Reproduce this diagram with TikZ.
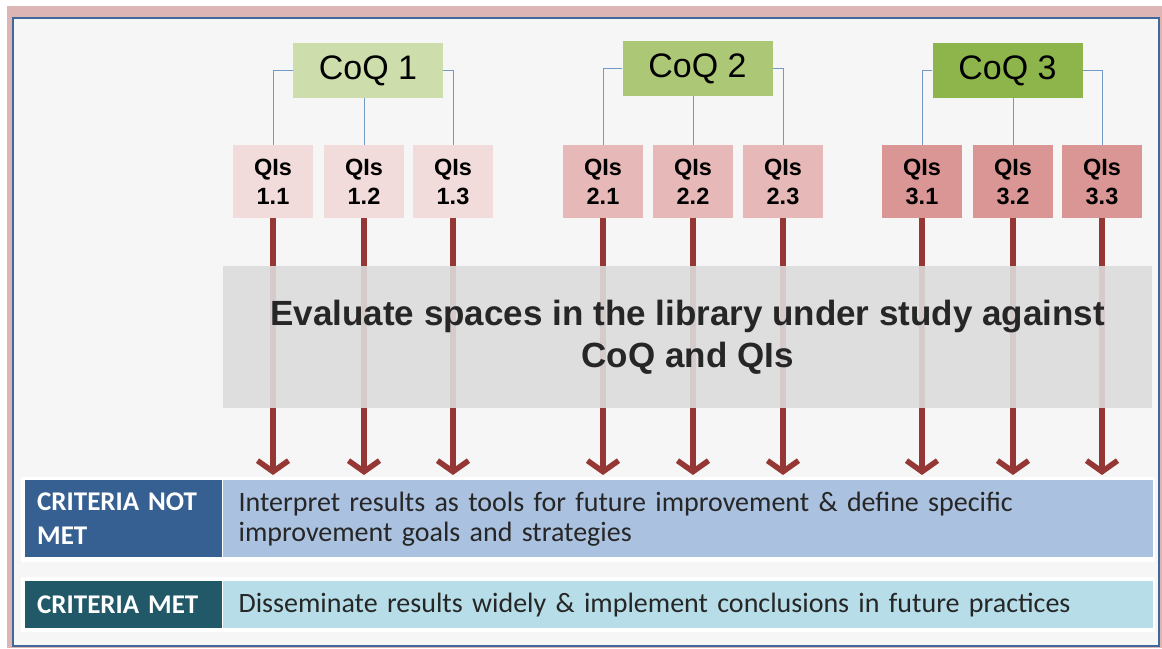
\documentclass[tikz,border=0pt]{standalone}
\usepackage{fontspec}
\setmainfont{Liberation Sans}
\newfontfamily\calib[WordSpace=0.7]{Carlito}
\usetikzlibrary{arrows.meta}
\definecolor{bgpink}{HTML}{DDB5B5}
\definecolor{frameblue}{HTML}{41689A}
\definecolor{panel}{HTML}{F6F6F6}
\definecolor{coqA}{HTML}{CDDDAC}
\definecolor{coqB}{HTML}{ACC775}
\definecolor{coqC}{HTML}{8EB54B}
\definecolor{qA}{HTML}{F2DCDB}
\definecolor{qB}{HTML}{E6B8B7}
\definecolor{qC}{HTML}{DA9694}
\definecolor{linkblue}{HTML}{7399C6}
\definecolor{arrred}{HTML}{953734}
\definecolor{evalgray}{HTML}{DCDCDC}
\definecolor{notmetdark}{HTML}{376092}
\definecolor{notmetlight}{HTML}{AAC1DF}
\definecolor{metdark}{HTML}{215968}
\definecolor{metlight}{HTML}{B6DDE8}
\definecolor{bodytext}{HTML}{262626}
\begin{document}
\begin{tikzpicture}[x=1pt,y=-1pt,
  coq/.style={minimum width=150pt,minimum height=55pt,inner sep=0pt,font=\fontsize{34}{38}\selectfont},
  qis/.style={minimum width=80pt,minimum height=73pt,inner sep=0pt,align=center,font=\bfseries\fontsize{23.5}{29}\selectfont},
  link/.style={draw=linkblue,line width=1pt},
  arr/.style={draw=arrred,line width=5.5pt,-{Straight Barb[length=11pt,width=31pt]}},
  darklabel/.style={anchor=north west,inner ysep=0pt,inner xsep=12pt,minimum height=#1,minimum width=197pt,text=white,font=\calib\bfseries\fontsize{27}{34}\selectfont,align=left,text width=173pt},
  lightbody/.style={anchor=north west,inner ysep=0pt,inner xsep=16pt,minimum height=#1,minimum width=930pt,text=bodytext,font=\calib\fontsize{28}{30}\selectfont,align=left,text width=898pt}]
\useasboundingbox (0,0) rectangle (1162,648);
\fill[white] (0,0) rectangle (1162,648);
\fill[bgpink] (7,6) rectangle (1162,648);
\draw[fill=panel,draw=frameblue,line width=2.5pt] (13,18) rectangle (1159,646);
% QIs boxes
\node[qis,fill=qA] (q11) at (273,181.5) {QIs\\1.1};
\node[qis,fill=qA] (q12) at (364,181.5) {QIs\\1.2};
\node[qis,fill=qA] (q13) at (453,181.5) {QIs\\1.3};
\node[qis,fill=qB] (q21) at (603,181.5) {QIs\\2.1};
\node[qis,fill=qB] (q22) at (693,181.5) {QIs\\2.2};
\node[qis,fill=qB] (q23) at (783,181.5) {QIs\\2.3};
\node[qis,fill=qC] (q31) at (922,181.5) {QIs\\3.1};
\node[qis,fill=qC] (q32) at (1013,181.5) {QIs\\3.2};
\node[qis,fill=qC] (q33) at (1102,181.5) {QIs\\3.3};
% CoQ boxes
\node[coq,fill=coqA] (c1) at (368,70.5) {CoQ 1};
\node[coq,fill=coqB] (c2) at (697.5,68.5) {CoQ 2};
\node[coq,fill=coqC] (c3) at (1007.5,70.5) {CoQ 3};
% links
\draw[link] (c1.west) -| (q11.north);
\draw[link] (q12.north) -- (q12.north |- c1.south);
\draw[link] (c1.east) -| (q13.north);
\draw[link] (c2.west) -| (q21.north);
\draw[link] (q22.north) -- (q22.north |- c2.south);
\draw[link] (c2.east) -| (q23.north);
\draw[link] (c3.west) -| (q31.north);
\draw[link] (q32.north) -- (q32.north |- c3.south);
\draw[link] (c3.east) -| (q33.north);
% arrows
\coordinate (tip) at (0,475);
\foreach \q in {q11,q12,q13,q21,q22,q23,q31,q32,q33}{
  \draw[arr] (\q.south) -- (\q.south |- tip);
}
% evaluation band
\node[anchor=north west,fill=evalgray,fill opacity=0.9,text opacity=1,inner sep=0pt,minimum width=929pt,minimum height=142pt,align=center,text=bodytext,font=\bfseries\fontsize{35}{42}\selectfont] (eval) at (223,266) {Evaluate spaces in the library under study against\\CoQ and QIs};
% bottom rows
\fill[white] (21,477) rectangle (1155,562);
\fill[white] (21,577) rectangle (1155,632);
\node[darklabel=77pt,fill=notmetdark] (nm) at (25,480) {CRITERIA NOT\\MET};
\node[lightbody=77pt,fill=notmetlight] (nmt) at (nm.north east) {Interpret results as tools for future improvement \& define specific\\improvement goals and strategies};
\node[darklabel=47pt,fill=metdark] (m) at (25,581) {CRITERIA MET};
\node[lightbody=47pt,fill=metlight] (mt) at (m.north east) {Disseminate results widely \& implement conclusions in future practices};
\end{tikzpicture}
\end{document}
